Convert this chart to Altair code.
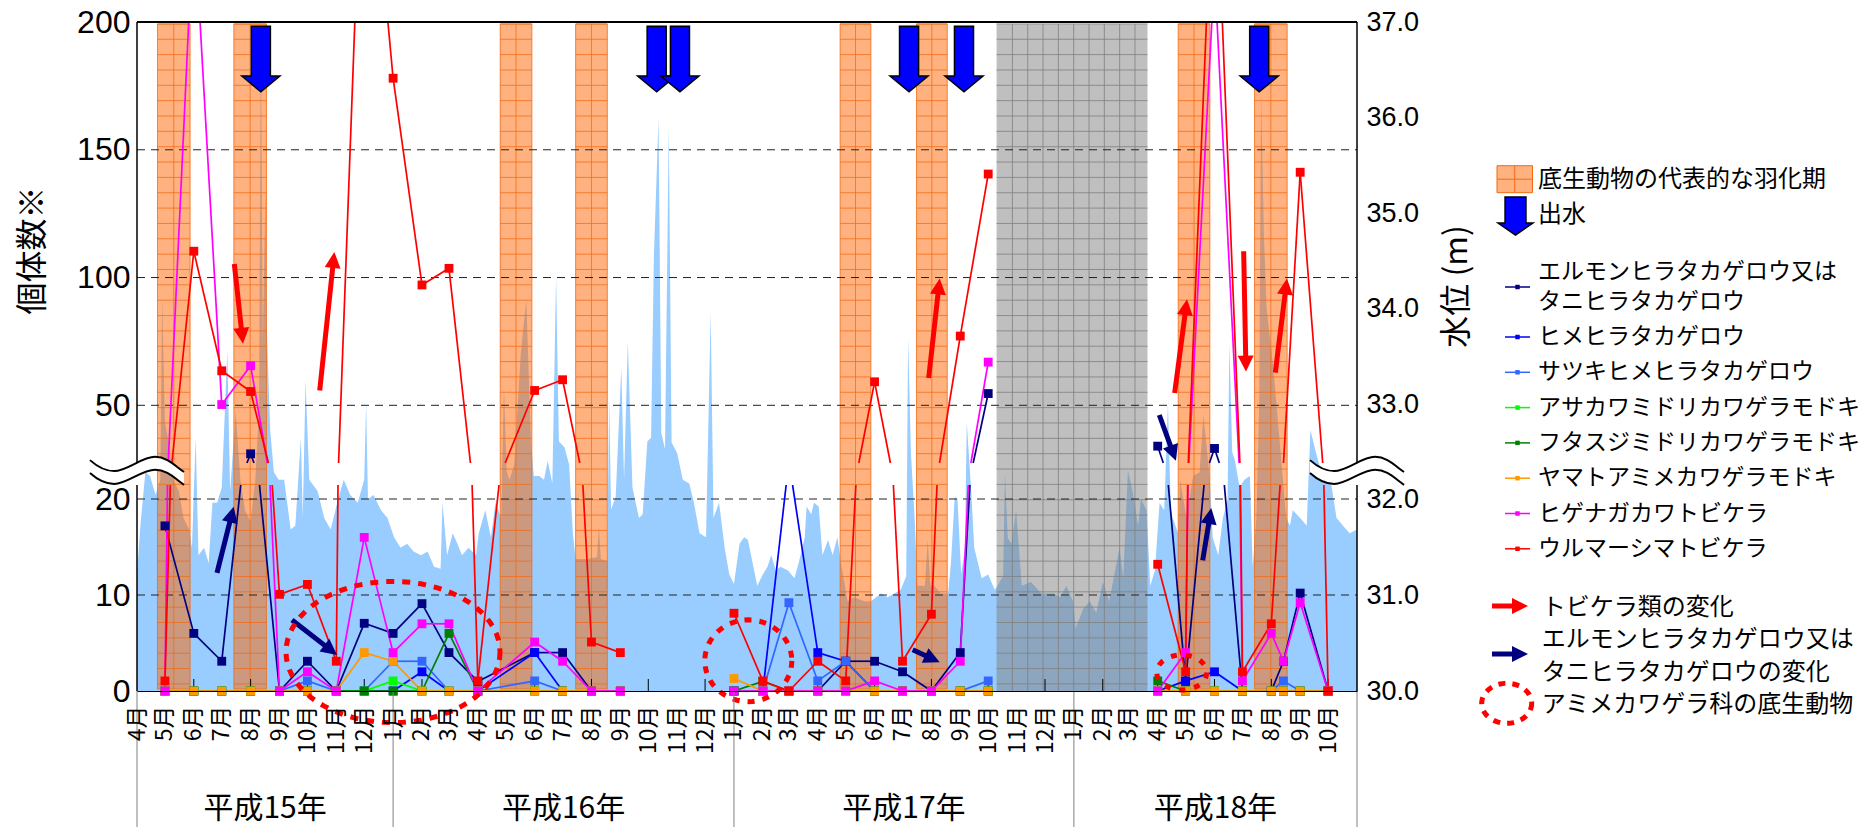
import math

import altair as alt
import numpy as np
import pandas as pd

# ------------------------------------------------------------------ layout
W, H = 1220, 669
JP = "Noto Sans CJK JP"
NUM = "Liberation Sans"

# ------------------------------------------------------------------ survey data
SAMPLE_DATES = [
    "2003-05-01", "2003-06-01", "2003-07-01", "2003-08-01", "2003-09-01",
    "2003-10-01", "2003-11-01", "2003-12-01", "2004-01-01", "2004-02-01",
    "2004-03-01", "2004-04-01", "2004-06-01", "2004-07-01", "2004-08-01",
    "2004-09-01", "2005-01-01", "2005-02-01", "2005-03-01", "2005-04-01",
    "2005-05-01", "2005-06-01", "2005-07-01", "2005-08-01", "2005-09-01",
    "2005-10-01", "2006-04-01", "2006-05-01", "2006-06-01", "2006-07-01",
    "2006-08-01", "2006-08-14", "2006-09-01", "2006-10-01",
]
ELMON = [17.2, 6.0, 3.1, 31.0, 0, 3.1, 0, 7.05, 6.0, 9.1, 4.0, 1.0, 4.0, 4.0, 0, None, 0,
         0, 0, 0, 3.1, 3.1, 2.0, 0, 4.0, 54.6, 34.0, 1.0, 33.1, 0, 0, 3.1, 10.2, 0]
HIME = [0, 0, 0, 0, 0, 0, 0, 0, 0, 2.0, 0, 0, 4.0, 0, 0, 0, 0,
        0, 24, 4.0, 3.1, 0, 0, 0, 0, 0, 0, 1.05, 2.0, 0, 0, 0, 0, 0]
SATSUKI = [0, 0, 0, 0, 0, 1.05, 0, 0, 3.1, 3.1, 0, 0, 1.05, 0, 0, 0, 0,
           0, 9.2, 1.05, 3.1, 0, 0, 0, 0, 1.05, 0, 0, 0, 0, 0, 1.05, 0, 0]
ASAKAWA = [0, 0, 0, 0, 0, 0, 0, 0, 1.05, 0, 0, 0, 0, 0, 0, 0, 0,
           0, 0, 0, 0, 0, 0, 0, 0, 0, 0, 0, 0, 0, 0, 0, 0, 0]
FUTASUJI = [0, 0, 0, 0, 0, 0, 0, 0, 0, 0, 6.0, 0, 0, 0, 0, 0, 0,
            1.0, 0, 0, 0, 0, 0, 0, 0, 0, 1.05, 0, 0, 0, 0, 0, 0, 0]
YAMATO = [0, 0, 0, 0, 0, 0, 0, 4.0, 3.1, 0, 0, 0, 0, 0, 0, 0, 1.3,
          0, 0, 0, 0, 0, 0, 0, 0, 0, 0, 0, 0, 0, 0, 0, 0, 0]
HIGENAGA = [0, 243, 50.3, 65.5, 0, 2.0, 0, 16.0, 4.0, 7.0, 7.0, 0, 5.1, 3.1, 0, 0, 0,
            0, 0, 0, 0, 1.05, 0, 0, 3.1, 66.9, 0, 4.0, 220, 1.05, 6.0, 3.1, 9.2, 0]
URUMA = [1.05, 110.3, 63.5, 55.4, 10.07, 11.1, 3.1, 300, 178, 97.1, 103.6, 1.05, 55.8, 60.0,
         5.1, 4.0, 8.1, 1.05, 0, 3.1, 1.05, 59.2, 3.1, 8.0, 77.1, 140.5, 13.2, 2.0, 277, 2.0,
         7.0, 27, 141.2, 0]

SERIES_KEYS = ["s0", "s1", "s2", "s3", "s4", "s5", "s6", "s7"]
SERIES_LABELS = [
    ["エルモンヒラタカゲロウ又は", "タニヒラタカゲロウ"],
    ["ヒメヒラタカゲロウ"],
    ["サツキヒメヒラタカゲロウ"],
    ["アサカワミドリカワゲラモドキ"],
    ["フタスジミドリカワゲラモドキ"],
    ["ヤマトアミメカワゲラモドキ"],
    ["ヒゲナガカワトビケラ"],
    ["ウルマーシマトビケラ"],
]
SERIES_COLORS = ["#000080", "#0000FF", "#3366FF", "#00FF00",
                 "#008000", "#FF9900", "#FF00FF", "#FF0000"]
SERIES_VALUES = [ELMON, HIME, SATSUKI, ASAKAWA, FUTASUJI, YAMATO, HIGENAGA, URUMA]

# daily water level (m), as (days since 2003-04-01, level)
WL_H15 = [
    (0, 31.22), (4, 31.77), (9, 32.29), (14, 32.25), (20, 32.05), (25, 32.21), (27, 34.12),
    (30, 32.81), (34, 32.61), (39, 32.21), (45, 32.09), (50, 31.81), (56, 31.69), (59, 31.50),
    (63, 32.65), (66, 31.42), (72, 31.50), (77, 31.34), (81, 31.97), (86, 31.97), (91, 32.13),
    (97, 33.56), (100, 32.09), (106, 32.93), (111, 32.21), (116, 31.89), (122, 31.77),
    (127, 32.21), (131, 32.93), (133, 37.0), (135, 33.6), (138, 35.3), (139, 33.9),
    (143, 32.73), (147, 32.29), (152, 32.21), (158, 32.21), (165, 31.69), (170, 31.73),
    (176, 32.65), (178, 31.81), (181, 33.25), (185, 32.21), (194, 32.09), (201, 31.81),
    (208, 31.69), (215, 31.97), (222, 32.21), (229, 32.05), (237, 31.97), (244, 32.21),
    (246, 33.01), (248, 32.01), (254, 32.05), (262, 31.89), (269, 31.81), (276, 31.61),
    (283, 31.50), (290, 31.54), (297, 31.46), (305, 31.42), (312, 31.46), (319, 31.30),
    (326, 31.28),
]
WL_H16 = [
    (328, 31.97), (333, 31.42), (339, 31.65), (344, 31.54), (349, 31.42), (356, 31.50),
    (364, 31.42), (367, 31.65), (374, 31.89), (380, 31.61), (385, 31.97), (391, 31.81),
    (394, 33.18), (397, 32.3), (400, 32.21), (405, 32.37), (412, 33.52), (418, 34.10),
    (423, 32.61), (426, 32.25), (432, 32.25), (437, 32.21), (441, 32.41), (446, 32.17),
    (450, 34.34), (453, 32.61), (459, 32.55), (464, 32.37), (468, 31.65), (471, 31.38),
    (482, 31.38), (494, 31.4), (496, 31.73), (498, 31.38), (505, 31.36), (507, 33.07),
    (509, 31.9), (514, 32.03), (520, 33.38), (523, 32.21), (527, 33.66), (532, 32.13),
    (539, 31.81), (543, 31.85), (548, 32.61), (552, 32.65), (555, 34.54), (560, 35.99),
    (563, 32.7), (567, 32.53), (571, 35.91), (574, 32.6), (580, 32.49), (586, 32.21),
    (593, 32.17), (598, 31.97), (604, 31.65), (611, 31.61), (616, 33.96), (619, 31.81),
    (625, 31.97), (631, 31.50), (636, 31.22), (641, 31.12), (647, 31.54), (652, 31.61),
]
WL_H17 = [
    (656, 31.58), (661, 31.34), (666, 31.10), (672, 31.22), (677, 31.30), (681, 31.42),
    (686, 31.26), (691, 31.30), (699, 31.26), (706, 31.18), (711, 31.36), (717, 31.61),
    (719, 31.93), (724, 31.85), (727, 31.97), (732, 31.93), (736, 31.42), (742, 31.58),
    (747, 31.42), (752, 31.61), (756, 31.34), (763, 30.94), (770, 30.98), (781, 30.94),
    (788, 30.94), (799, 31.02), (806, 30.98), (813, 31.02), (820, 31.06), (826, 31.2),
    (828, 33.70), (831, 32.49), (835, 31.81), (838, 31.10), (846, 31.10), (849, 31.58),
    (852, 31.1), (856, 31.10), (863, 31.02), (871, 31.02), (874, 31.34), (878, 32.03),
    (881, 32.01), (885, 31.22), (889, 31.5), (891, 32.81), (896, 32.05), (899, 31.50),
    (907, 31.18), (914, 31.22), (921, 31.06), (924, 31.10), (930, 31.2), (932, 32.29),
    (935, 31.6), (939, 31.54), (944, 31.89), (950, 31.10), (960, 31.14), (971, 31.02),
    (984, 31.02),
]
WL_H18 = [
    (991, 30.98), (998, 31.10), (1005, 30.94), (1008, 30.66), (1016, 30.86), (1023, 30.94),
    (1030, 30.82), (1037, 31.14), (1044, 30.94), (1051, 31.30), (1055, 31.50), (1059, 31.18),
    (1064, 32.31), (1069, 32.09), (1075, 31.73), (1078, 32.01), (1084, 31.89), (1088, 31.10),
    (1093, 31.26), (1098, 31.97), (1103, 31.89), (1107, 33.01), (1110, 31.9), (1112, 31.81),
    (1118, 31.65), (1120, 32.21), (1127, 31.81), (1134, 32.25), (1141, 32.29), (1145, 32.89),
    (1148, 32.61), (1152, 32.21), (1155, 31.61), (1161, 31.42), (1166, 31.81), (1171, 32.0),
    (1173, 33.64), (1176, 32.5), (1179, 32.41), (1184, 32.13), (1189, 32.21), (1195, 32.25),
    (1198, 31.30), (1202, 31.81), (1205, 33.0), (1207, 36.26), (1210, 34.8), (1213, 34.00),
    (1220, 33.40), (1227, 32.61), (1234, 31.81), (1238, 31.73), (1241, 31.89), (1249, 31.81),
    (1256, 31.73), (1260, 32.73), (1266, 32.49), (1274, 32.21), (1281, 32.25), (1288, 31.81),
    (1295, 31.73), (1302, 31.65), (1310, 31.69),
]

# emergence periods and unsurveyed winter (days since 2003-04-01)
BAND_START = [22, 104, 390, 471, 755, 837, 1118, 1200]
BAND_END = [57, 139, 424, 505, 788, 870, 1152, 1235]
GRAY_SPAN = (923, 1085)
FLOOD_DAYS = [133, 558, 583, 829, 888, 1205]

# trend arrows: (tail day, tail count, tip day, tip count)
TOBI_ARROWS = [
    (104.5, 105.3, 113.8, 74.1), (196.2, 55.8, 211.9, 110.0), (850.1, 60.7, 861.9, 99.6),
    (1114.2, 54.8, 1127.5, 91.5), (1188.3, 110.3, 1190.8, 63.2), (1222.3, 62.8, 1234.8, 99.6),
]
ELMON_ARROWS = [
    (85.9, 12.3, 103.8, 19.2), (166.4, 7.4, 214.8, 3.75), (832.9, 4.3, 861.9, 3.0),
    (1097.7, 46.2, 1115.6, 28.3), (1144.3, 13.6, 1153.5, 19.05),
]
# ring marks around アミメカワゲラ科 records: (day, count)
AMIME_RINGS = [(274.9, 4.06), (656.4, 3.15), (1121.8, 1.93)]

YEAR_EDGES = ["2003-04-01", "2004-01-01", "2005-01-01", "2006-01-01", "2006-11-01"]
YEAR_LABELS = ["平成15年", "平成16年", "平成17年", "平成18年"]

# ------------------------------------------------------------------ helpers
T0 = pd.Timestamp("2003-04-01")
T1 = pd.Timestamp("2006-11-01")


def ms(ts):
    return int(pd.Timestamp(ts).value // 10**6)


T0_MS, T1_MS = ms(T0), ms(T1)
DAY_MS = 86400000


def day_ms(d):
    return T0_MS + d * DAY_MS


# broken left axis: lower panel 0-21.46, upper panel 27.4-200
BRK_LO, BRK_HI = 21.46, 27.4
Y_DOM = [0, 20, BRK_LO, BRK_HI, 50, 200]
Y_RNG = [669, 477, 463, 441, 383.3, 0]
MAX_GAP_MS = 75 * DAY_MS


def xpix(t):
    return (t - T0_MS) / (T1_MS - T0_MS) * W


def ypix(v):
    return float(np.interp(v, Y_DOM, Y_RNG))


def pieces(ts, vs):
    """Split each survey-to-survey segment at the axis break."""
    out = []
    for i in range(len(ts) - 1):
        t0, t1, v0, v1 = ts[i], ts[i + 1], vs[i], vs[i + 1]
        if v0 is None or v1 is None or t1 - t0 > MAX_GAP_MS:
            continue
        lo0, lo1 = v0 <= BRK_LO, v1 <= BRK_LO
        hi0, hi1 = v0 >= BRK_HI, v1 >= BRK_HI
        if (lo0 and lo1) or (hi0 and hi1):
            out.append(((t0, v0), (t1, v1)))
            continue

        def cross(level):
            return t0 + (level - v0) / (v1 - v0) * (t1 - t0)

        if lo0:
            out.append(((t0, v0), (cross(BRK_LO), BRK_LO)))
        if lo1:
            out.append(((cross(BRK_LO), BRK_LO), (t1, v1)))
        if hi0:
            out.append(((t0, v0), (cross(BRK_HI), BRK_HI)))
        if hi1:
            out.append(((cross(BRK_HI), BRK_HI), (t1, v1)))
    return out


def ellipse_path(ratio, n=72):
    pts = [(math.cos(2 * math.pi * i / n), ratio * math.sin(2 * math.pi * i / n)) for i in range(n)]
    return "M" + "L".join(f"{x:.4f},{y:.4f}" for x, y in pts) + "Z"


HEAD_PATH = "M0,0L0.5,1L-0.5,1Z"
FLOOD_PATH = "M-0.29,-1L0.29,-1L0.29,0.52L0.58,0.52L0,1L-0.58,0.52L-0.29,0.52Z"
LEG_FLOOD_PATH = "M-0.55,-1L0.55,-1L0.55,0.37L0.92,0.37L0,1L-0.92,0.37L-0.55,0.37Z"
WAVE_FILL = ("M-0.99,-0.25C-0.8,-0.08,-0.63,-0.02,-0.48,-0.02C-0.21,-0.02,0.1,-0.32,0.38,-0.32"
             "C0.63,-0.32,0.8,-0.13,0.99,0L0.99,0.27C0.8,0.14,0.63,-0.05,0.38,-0.05"
             "C0.1,-0.05,-0.21,0.25,-0.48,0.25C-0.63,0.25,-0.8,0.19,-0.99,0.02Z")
WAVE_LINES = ("M-0.99,-0.25C-0.8,-0.08,-0.63,-0.02,-0.48,-0.02C-0.21,-0.02,0.1,-0.32,0.38,-0.32"
              "C0.63,-0.32,0.8,-0.13,0.99,0"
              "M-0.99,0.02C-0.8,0.19,-0.63,0.25,-0.48,0.25C-0.21,0.25,0.1,-0.05,0.38,-0.05"
              "C0.63,-0.05,0.8,0.14,0.99,0.27")

ONE = pd.DataFrame({"k": [0]})

# ------------------------------------------------------------------ scales / axes
MONTH_TICKS = [ms(d) for d in pd.date_range("2003-04-01", "2006-10-01", freq="MS")]
X_SCALE = alt.Scale(type="utc", domain=[T0_MS, T1_MS], nice=False)
X_AXIS = alt.Axis(
    values=MONTH_TICKS, labelExpr="utcFormat(datum.value, '%-m') + '月'",
    labelAngle=270, labelAlign="right", labelBaseline="middle", labelFont=JP,
    labelFontSize=23, labelColor="black", labelPadding=14, labelOverlap=False,
    labelBound=False, labelFlush=False, ticks=False, domain=True, domainColor="black",
    domainWidth=1, grid=False, title=None, zindex=1,
)
Y_SCALE = alt.Scale(domain=Y_DOM, range=Y_RNG, nice=False, zero=False)
Y_AXIS = alt.Axis(
    orient="left", values=[0, 10, 20, 50, 100, 150, 200], title="個体数※",
    titleFont=JP, titleFontSize=32, titleFontWeight="normal", titleColor="black",
    titleAngle=270, titleX=-105, titleY=228, titleAlign="center", titleBaseline="middle",
    labelFont=NUM, labelFontSize=32, labelColor="black", labelPadding=7,
    labelOverlap=False, ticks=False, domain=False, grid=False, zindex=1,
)
WL_SCALE = alt.Scale(domain=[30, 37], nice=False, zero=False)
WL_AXIS = alt.Axis(
    orient="right", values=[30, 31, 32, 33, 34, 35, 36, 37], format=".1f", title="水位 (m)",
    titleFont=JP, titleFontSize=32, titleFontWeight="normal", titleColor="black",
    titleAngle=270, titleX=99, titleY=264, titleAlign="center", titleBaseline="middle",
    labelFont=NUM, labelFontSize=27, labelColor="black", labelPadding=9,
    labelOverlap=False, ticks=False, domain=False, grid=False, zindex=1,
)


def X(field="t"):
    return alt.X(f"{field}:T", scale=X_SCALE, axis=X_AXIS)


def Y(field="v"):
    return alt.Y(f"{field}:Q", scale=Y_SCALE, axis=Y_AXIS)


def YW(field="wl"):
    return alt.Y(f"{field}:Q", scale=WL_SCALE, axis=WL_AXIS)


# ------------------------------------------------------------------ frames
wl_df = pd.DataFrame(WL_H15 + WL_H16 + WL_H17 + WL_H18, columns=["day", "wl"])
wl_df["t"] = wl_df["day"].map(day_ms)

band_df = pd.DataFrame({"t": [day_ms(d) for d in BAND_START], "t2": [day_ms(d) for d in BAND_END]})
band_df["tm"] = (band_df["t"] + band_df["t2"]) / 2

HATCH_STEP = 0.1606  # m between pattern lines
hatch_levels = [36.98 - HATCH_STEP * k for k in range(44) if 36.98 - HATCH_STEP * k > 30.05]
band_hatch = pd.DataFrame(
    [dict(t=r.t, t2=r.t2, wl=lv) for r in band_df.itertuples() for lv in hatch_levels])
gray_df = pd.DataFrame({"t": [day_ms(GRAY_SPAN[0])], "t2": [day_ms(GRAY_SPAN[1])]})
gray_h = pd.DataFrame([dict(t=day_ms(GRAY_SPAN[0]), t2=day_ms(GRAY_SPAN[1]), wl=lv)
                       for lv in hatch_levels])
gray_v_days = []
d = GRAY_SPAN[0] + 17.0
while d < GRAY_SPAN[1] - 2:
    gray_v_days.append(d)
    d += 16.45
gray_v = pd.DataFrame({"t": [day_ms(x) for x in gray_v_days]})

sample_ms = [ms(x) for x in SAMPLE_DATES]
line_rows, pt_rows = [], []
for si, (key, vals) in enumerate(zip(SERIES_KEYS, SERIES_VALUES)):
    for pi, ((ta, va), (tb, vb)) in enumerate(pieces(sample_ms, vals)):
        sid = f"{si}-{pi:03d}"
        line_rows.append(dict(s=key, seg=sid, t=ta, v=va))
        line_rows.append(dict(s=key, seg=sid, t=tb, v=vb))
    for t, v in zip(sample_ms, vals):
        if v is not None and (v <= BRK_LO or BRK_HI <= v <= 200):
            pt_rows.append(dict(s=key, t=t, v=v))
line_df = pd.DataFrame(line_rows)
pt_df = pd.DataFrame(pt_rows)


def arrow_frames(arrows):
    shafts, heads = [], []
    for d0, v0, d1, v1 in arrows:
        t0, t1 = day_ms(d0), day_ms(d1)
        dx = xpix(t1) - xpix(t0)
        dy = ypix(v1) - ypix(v0)
        f = 1 - 10 / math.hypot(dx, dy)
        shafts.append(dict(t=t0, v=v0, t2=t0 + f * (t1 - t0), v2=v0 + f * (v1 - v0)))
        heads.append(dict(t=t1, v=v1, ang=math.degrees(math.atan2(dx, -dy)) % 360))
    return pd.DataFrame(shafts), pd.DataFrame(heads)


tobi_shaft, tobi_head = arrow_frames(TOBI_ARROWS)
elmon_shaft, elmon_head = arrow_frames(ELMON_ARROWS)

grid_df = pd.DataFrame({"v": [10, 20, 50, 100, 150]})
minor_ticks = pd.DataFrame({"t": [ms(x) for x in pd.date_range("2003-06-01", "2006-10-01", freq="2MS")]})
frame_df = pd.DataFrame({"v": [200, BRK_LO], "v2": [BRK_HI, 0]})
edges_ms = [ms(x) for x in YEAR_EDGES]
year_sep = pd.DataFrame({"t": edges_ms})
year_lab = pd.DataFrame({"t": [(a + b) / 2 for a, b in zip(edges_ms[:-1], edges_ms[1:])],
                         "label": YEAR_LABELS})
flood_df = pd.DataFrame({"t": [day_ms(x) for x in FLOOD_DAYS]})

# ------------------------------------------------------------------ water-level group
BAND_FILL = "#FF6600"
HATCH = "#F26A14"
water_layers = [
    alt.Chart(wl_df).mark_area(color="#99CCFF", opacity=1, clip=True).encode(
        x=X(), y=YW(), y2=alt.datum(30)),
    alt.Chart(band_df).mark_rect(fill=BAND_FILL, fillOpacity=0.5, stroke=HATCH,
                                 strokeWidth=1, strokeOpacity=0.8).encode(
        x=X(), x2="t2:T", y=alt.value(2), y2=alt.value(667)),
    alt.Chart(band_hatch).mark_rule(color=HATCH, strokeWidth=1, opacity=0.75).encode(
        x=X(), x2="t2:T", y=YW()),
    alt.Chart(band_df).mark_rule(color=HATCH, strokeWidth=1, opacity=0.75).encode(
        x=X("tm"), y=alt.value(2), y2=alt.value(667)),
    alt.Chart(gray_df).mark_rect(fill="#808080", fillOpacity=0.5).encode(
        x=X(), x2="t2:T", y=alt.value(2), y2=alt.value(669)),
    alt.Chart(gray_h).mark_rule(color="#808080", strokeWidth=1, opacity=0.8).encode(
        x=X(), x2="t2:T", y=YW()),
    alt.Chart(gray_v).mark_rule(color="#808080", strokeWidth=1, opacity=0.8).encode(
        x=X(), y=alt.value(2), y2=alt.value(669)),
]
water = alt.layer(*water_layers)

# ------------------------------------------------------------------ count group
COLOR = alt.Color("s:N", scale=alt.Scale(domain=SERIES_KEYS, range=SERIES_COLORS), legend=None)


def arrow_layers(shaft, head, color):
    return [
        alt.Chart(shaft).mark_rule(color=color, strokeWidth=5, strokeCap="butt").encode(
            x=X(), x2="t2:T", y=Y(), y2="v2:Q"),
        alt.Chart(head).mark_point(shape=HEAD_PATH, size=1024, filled=True, fill=color,
                                   strokeWidth=0, opacity=1).encode(
            x=X(), y=Y(), angle=alt.Angle("ang:Q", scale=None)),
    ]


RING_STYLE = [(214, 0.66, 5, [8, 8]), (87, 0.94, 5, [7, 8]), (50, 0.7, 5, [6, 9])]
ring_layers = []
for (dd, vv), (span, ratio, sw, dash) in zip(AMIME_RINGS, RING_STYLE):
    ring_layers.append(
        alt.Chart(pd.DataFrame({"t": [day_ms(dd)], "v": [vv]})).mark_point(
            shape=ellipse_path(ratio), size=span * span, filled=False, stroke="#FF0000",
            strokeWidth=sw, strokeDash=dash, strokeCap="butt", opacity=1).encode(x=X(), y=Y()))


def px_text(text, x, y, size=23):
    return alt.Chart(ONE).mark_text(text=text, align="left", baseline="middle", font=JP,
                                    fontSize=size, color="black").encode(
        x=alt.value(x), y=alt.value(y))


def px_rule(x, x2, y, color, width):
    return alt.Chart(ONE).mark_rule(color=color, strokeWidth=width, strokeCap="butt").encode(
        x=alt.value(x), x2=alt.value(x2), y=alt.value(y))


def px_symbol(shape, x, y, size, **kw):
    return alt.Chart(ONE).mark_point(shape=shape, size=size, opacity=1, **kw).encode(
        x=alt.value(x), y=alt.value(y))


legend_layers = [
    alt.Chart(ONE).mark_rect(fill=BAND_FILL, fillOpacity=0.5, stroke=HATCH, strokeWidth=1).encode(
        x=alt.value(1360), x2=alt.value(1395.5), y=alt.value(143.7), y2=alt.value(170.7)),
    px_rule(1360, 1395.5, 157.2, HATCH, 1),
    alt.Chart(ONE).mark_rule(color=HATCH, strokeWidth=1).encode(
        x=alt.value(1377.7), y=alt.value(143.7), y2=alt.value(170.7)),
    px_text("底生動物の代表的な羽化期", 1401, 158, size=24),
    px_symbol(LEG_FLOOD_PATH, 1378.5, 194, 1444, filled=True, fill="#0000FF",
              stroke="black", strokeWidth=1.5),
    px_text("出水", 1401, 193, size=24),
]
row_y = [265] + [315 + 35.3 * i for i in range(7)]
for lines, color, y in zip(SERIES_LABELS, SERIES_COLORS, row_y):
    legend_layers += [
        px_rule(1368, 1393, y, color, 1.5),
        px_symbol("square", 1380.5, y, 20, filled=True, fill=color, strokeWidth=0),
    ]
    first = y - 15 * (len(lines) - 1)
    for k, line in enumerate(lines):
        legend_layers.append(px_text(line, 1401, first + 30 * k))
legend_layers += [
    px_rule(1355, 1381, 584, "#FF0000", 5),
    px_symbol(HEAD_PATH, 1391, 584, 1024, filled=True, fill="#FF0000", strokeWidth=0, angle=90),
    px_text("トビケラ類の変化", 1404.7, 586, size=24),
    px_rule(1355, 1381, 632, "#000080", 5),
    px_symbol(HEAD_PATH, 1391, 632, 1024, filled=True, fill="#000080", strokeWidth=0, angle=90),
    px_text("エルモンヒラタカゲロウ又は", 1404.7, 618, size=24),
    px_text("タニヒラタカゲロウの変化", 1404.7, 651, size=24),
    px_symbol(ellipse_path(0.8), 1369.7, 681.3, 2500, filled=False, stroke="#FF0000",
              strokeWidth=5, strokeDash=[7, 7], strokeCap="butt"),
    px_text("アミメカワゲラ科の底生動物", 1404.7, 683, size=24),
]

count_layers = [
    alt.Chart(grid_df).mark_rule(color="#222222", strokeWidth=1, strokeDash=[8, 6]).encode(
        x=alt.value(0), x2=alt.value(W), y=Y()),
    alt.Chart(minor_ticks).mark_rule(color="black", strokeWidth=1).encode(
        x=X(), y=alt.value(H), y2=alt.value(H - 12)),
    alt.Chart(line_df).mark_line(strokeWidth=1.7, clip=True).encode(
        x=X(), y=Y(), color=COLOR, detail="seg:N"),
    alt.Chart(pt_df).mark_square(size=78, opacity=1).encode(x=X(), y=Y(), color=COLOR),
    *arrow_layers(tobi_shaft, tobi_head, "#FF0000"),
    *arrow_layers(elmon_shaft, elmon_head, "#000080"),
    *ring_layers,
    alt.Chart(flood_df).mark_point(shape=FLOOD_PATH, size=4316, filled=True, fill="#0000FF",
                                   stroke="black", strokeWidth=1.5, opacity=1).encode(
        x=X(), y=alt.value(37)),
    # plot frame with the axis break
    alt.Chart(frame_df).mark_rule(color="black", strokeWidth=1.5).encode(
        x=alt.value(0), y=Y(), y2="v2:Q"),
    alt.Chart(frame_df).mark_rule(color="black", strokeWidth=1.5).encode(
        x=alt.value(W), y=Y(), y2="v2:Q"),
    px_rule(0, W, 0, "black", 2),
    px_symbol(WAVE_FILL, 0, 450, 9025, filled=True, fill="white", strokeWidth=0),
    px_symbol(WAVE_LINES, 0, 450, 9025, filled=False, stroke="black", strokeWidth=2),
    px_symbol(WAVE_FILL, W, 450, 9025, filled=True, fill="white", strokeWidth=0),
    px_symbol(WAVE_LINES, W, 450, 9025, filled=False, stroke="black", strokeWidth=2),
    # fiscal-year strip under the month labels
    alt.Chart(year_sep).mark_rule(color="#808080", strokeWidth=1).encode(
        x=X(), y=alt.value(H), y2=alt.value(H + 136)),
    alt.Chart(year_lab).mark_text(font=JP, fontSize=30, color="black", baseline="middle").encode(
        x=X(), y=alt.value(787), text="label:N"),
    *legend_layers,
]
counts = alt.layer(*count_layers)

chart = (
    alt.layer(water, counts)
    .resolve_scale(y="independent")
    .properties(
        width=W, height=H,
        padding={"left": 137, "top": 22, "right": 518, "bottom": 136},
        autosize=alt.AutoSizeParams(type="none"),
    )
    .configure_view(stroke=None)
)

chart.save("out.html", embed_options={"renderer": "svg", "actions": False})
